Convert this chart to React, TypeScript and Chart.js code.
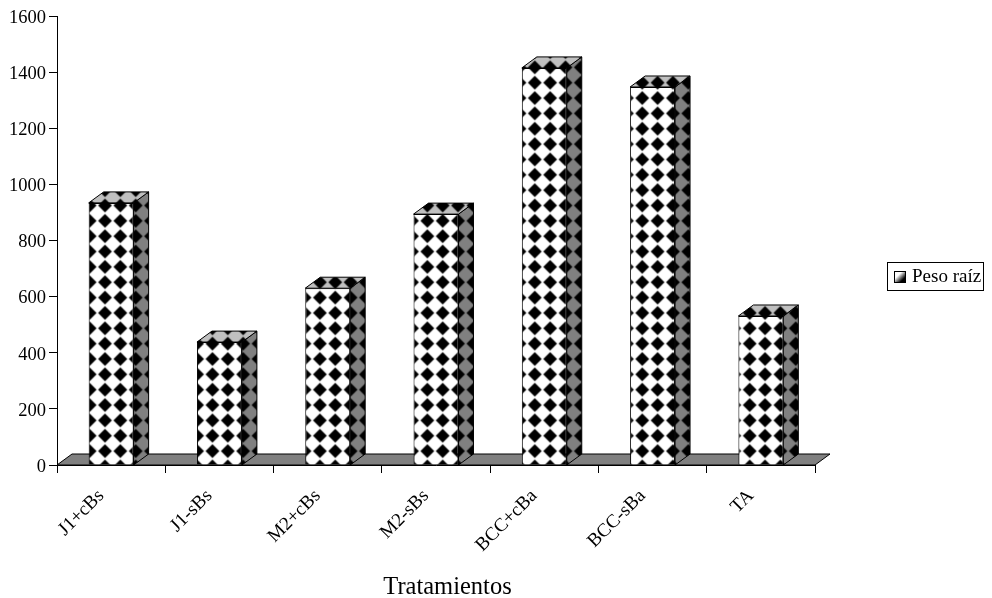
import React, { useEffect, useRef } from "react";
import { Chart, registerables } from "chart.js";

Chart.register(...registerables);

const categories = ["J1+cBs", "J1-sBs", "M2+cBs", "M2-sBs", "BCC+cBa", "BCC-sBa", "TA"];
const pesoRaiz = [934, 438, 630, 894, 1415, 1347, 531];
const yTicks = [0, 200, 400, 600, 800, 1000, 1200, 1400, 1600];
const seriesName = "Peso raíz";
const axisTitle = "Tratamientos";

const FONT = '"Liberation Serif", "Times New Roman", serif';
const DX = 15;
const DY = 11;
const P = 15.35;
const ANCHOR_X = 105;
const ANCHOR_Y = 359;

function makeTile(bg: string) {
  const S = 4;
  const c = document.createElement("canvas");
  c.width = Math.round(P * S);
  c.height = Math.round(P * S);
  const g = c.getContext("2d")!;
  g.fillStyle = bg;
  g.fillRect(0, 0, c.width, c.height);
  const w = c.width;
  const r = w * 0.45;
  g.filter = `blur(${0.5 * S}px)`;
  g.fillStyle = "#000";
  for (let i = -1; i <= 1; i++) {
    for (let j = -1; j <= 1; j++) {
      const cx = w / 2 + i * w;
      const cy = w / 2 + j * w;
      g.beginPath();
      g.moveTo(cx, cy - r);
      g.lineTo(cx + r, cy);
      g.lineTo(cx, cy + r);
      g.lineTo(cx - r, cy);
      g.closePath();
      g.fill();
    }
  }
  return c;
}

// every face uses the same lattice, anchored to the page
function patternFor(ctx: CanvasRenderingContext2D, bg: string) {
  const tile = makeTile(bg);
  const p = ctx.createPattern(tile, "repeat")!;
  const k = P / tile.width;
  p.setTransform(new DOMMatrix([k, 0, 0, k, ANCHOR_X - P / 2, ANCHOR_Y - P / 2]));
  return p;
}

const solid3d = {
  id: "solid3d",
  beforeDatasetsDraw(chart: any) {
    const { ctx, chartArea, scales } = chart;
    const base = scales.y.getPixelForValue(0);
    const l = chartArea.left;
    const r = chartArea.right;
    ctx.save();
    ctx.fillStyle = "#808080";
    ctx.strokeStyle = "#000";
    ctx.lineWidth = 1;
    ctx.beginPath();
    ctx.moveTo(l, base);
    ctx.lineTo(l + DX, base - DY);
    ctx.lineTo(r + DX, base - DY);
    ctx.lineTo(r, base);
    ctx.closePath();
    ctx.fill();
    ctx.stroke();

    const sidePattern = patternFor(ctx, "#808080");
    const topPattern = patternFor(ctx, "#c0c0c0");
    chart.getDatasetMeta(0).data.forEach((bar: any) => {
      const x1 = bar.x + bar.width / 2;
      const x0 = bar.x - bar.width / 2;
      const top = bar.y;
      ctx.beginPath();
      ctx.moveTo(x1, top);
      ctx.lineTo(x1 + DX, top - DY);
      ctx.lineTo(x1 + DX, base - DY);
      ctx.lineTo(x1, base);
      ctx.closePath();
      ctx.fillStyle = sidePattern;
      ctx.fill();
      ctx.stroke();

      ctx.beginPath();
      ctx.moveTo(x0, top);
      ctx.lineTo(x0 + DX, top - DY);
      ctx.lineTo(x1 + DX, top - DY);
      ctx.lineTo(x1, top);
      ctx.closePath();
      ctx.fillStyle = topPattern;
      ctx.fill();
      ctx.stroke();
    });
    ctx.restore();
  },
  afterDraw(chart: any) {
    const { ctx } = chart;
    ctx.save();
    // legend box
    ctx.fillStyle = "#fff";
    ctx.strokeStyle = "#000";
    ctx.lineWidth = 1;
    ctx.fillRect(887.5, 262.5, 96, 28);
    ctx.strokeRect(887.5, 262.5, 96, 28);
    // marker
    const grad = ctx.createLinearGradient(896, 273, 905, 282);
    grad.addColorStop(0.25, "#fff");
    grad.addColorStop(0.75, "#000");
    ctx.fillStyle = grad;
    ctx.fillRect(894.5, 271.5, 11, 11);
    ctx.strokeRect(894.5, 271.5, 11, 11);
    ctx.fillStyle = "#000";
    ctx.font = `19px ${FONT}`;
    ctx.textBaseline = "middle";
    ctx.textAlign = "left";
    ctx.fillText(chart.data.datasets[0].label, 912, 277);
    // axis title
    ctx.font = `24.5px ${FONT}`;
    ctx.textAlign = "center";
    ctx.fillText(axisTitle, 447.5, 588);
    ctx.restore();
  },
};

export default function App() {
  const ref = useRef<HTMLCanvasElement>(null);
  useEffect(() => {
    const canvas = ref.current!;
    const ctx = canvas.getContext("2d")!;
    const chart = new Chart(canvas, {
      type: "bar",
      data: {
        labels: categories,
        datasets: [
          {
            label: seriesName,
            data: pesoRaiz,
            backgroundColor: patternFor(ctx, "#ffffff") as any,
            borderColor: "#000",
            borderWidth: 1,
            barPercentage: 0.415,
            categoryPercentage: 1,
          },
        ],
      },
      options: {
        responsive: false,
        animation: false,
        devicePixelRatio: 1,
        layout: { padding: { top: 16, left: 0, right: 177, bottom: 0 } },
        plugins: { legend: { display: false }, tooltip: { enabled: false } },
        scales: {
          x: {
            afterFit(s: any) {
              s.height = 133;
            },
            grid: { offset: true, drawOnChartArea: false, color: "#000", tickLength: 8, tickColor: "#000" },
            border: { color: "#000" },
            ticks: {
              color: "#000",
              font: { family: FONT, size: 19 },
              minRotation: 45,
              maxRotation: 45,
              padding: 12,
              labelOffset: -10,
            },
          },
          y: {
            min: yTicks[0],
            max: yTicks[yTicks.length - 1],
            afterFit(s: any) {
              s.width = 57;
            },
            grid: { drawOnChartArea: false, color: "#000", tickLength: 8, tickColor: "#000" },
            border: { color: "#000" },
            ticks: {
              stepSize: yTicks[1] - yTicks[0],
              color: "#000",
              font: { family: FONT, size: 18.5 },
              padding: 3,
              labelOffset: 2,
              callback: (v: any) => String(v),
            },
          },
        },
      },
      plugins: [solid3d],
    } as any);
    return () => chart.destroy();
  }, []);
  return (
    <div style={{ position: "fixed", left: 0, top: 0, width: 992, height: 598, background: "#fff" }}>
      <canvas ref={ref} width={992} height={598} style={{ display: "block" }} />
    </div>
  );
}
